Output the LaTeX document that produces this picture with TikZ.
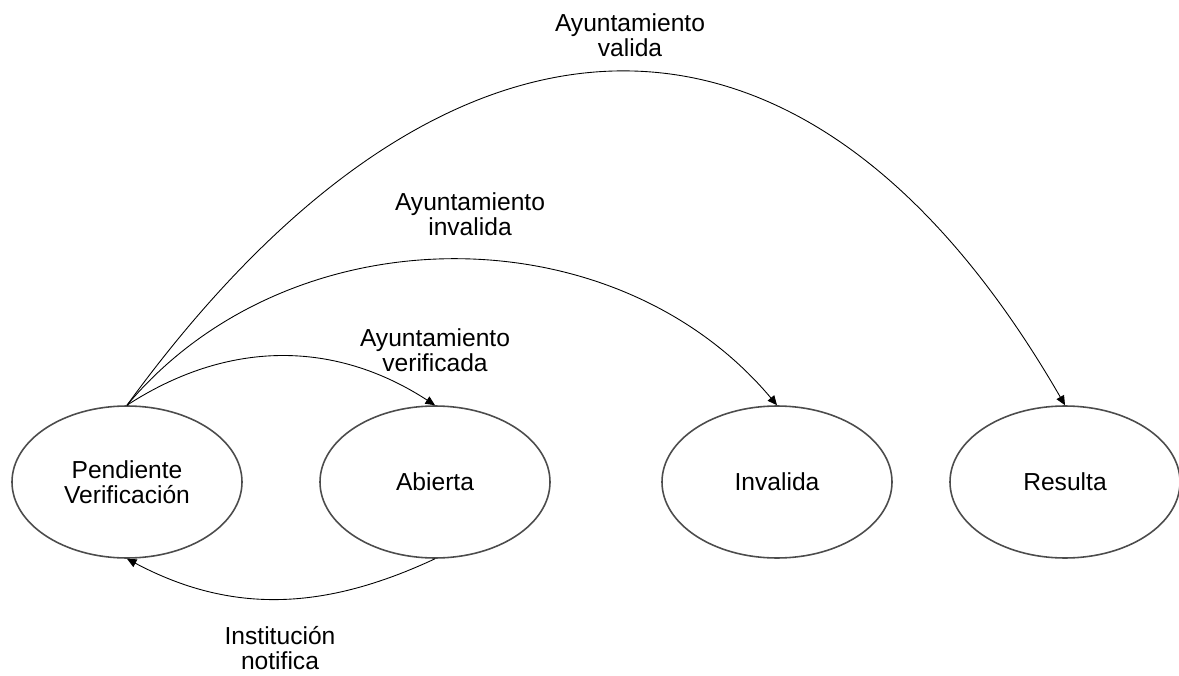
\documentclass[tikz,border=0pt]{standalone}
\usepackage{fontspec}
\setmainfont{Liberation Sans}
\usepackage{tikz}
\usetikzlibrary{arrows.meta,shapes.geometric}
\tikzset{
	estado/.style={ellipse, draw=black!70, line width=0.9pt, minimum width=4.6cm, minimum height=3.04cm, inner sep=0pt, align=center, font=\fontsize{14}{14.5}\selectfont},
	etiqueta/.style={align=center, font=\fontsize{14}{14.5}\selectfont},
	flecha/.style={-{Triangle[length=0.19cm, width=0.17cm]}, line width=0.5pt}
}

\begin{document}
\begin{tikzpicture}
		%%%%% START %%%%%
		
		\useasboundingbox (0, 0) rectangle (23.58, 13.5);
		
		\node[estado] (pv) at (2.54, 3.86) {Pendiente\\Verificación};
		\node[estado] (ab) at (8.70, 3.86) {Abierta};
		\node[estado] (inv) at (15.54, 3.86) {Invalida};
		\node[estado] (res) at (21.30, 3.86) {Resulta};
		
		\node[etiqueta] (lval) at (12.6, 12.8) {Ayuntamiento\\valida};
		\node[etiqueta] (linv) at (9.4, 9.22) {Ayuntamiento\\invalida};
		\node[etiqueta] (lver) at (8.7, 6.5) {Ayuntamiento\\verificada};
		\node[etiqueta] (lnot) at (5.6, 0.54) {Institución\\notifica};
		
		\draw[flecha] (pv.north) to[out=33, in=147] (ab.north);
		\draw[flecha] (pv.north) to[out=50, in=130] (inv.north);
		\draw[flecha] (pv.north) to[out=54, in=120, looseness=1.45] (res.north);
		\draw[flecha] (ab.south) to[out=-155, in=-28] (pv.south);
		
		%%%%% END %%%%%
	\end{tikzpicture}
\end{document}
